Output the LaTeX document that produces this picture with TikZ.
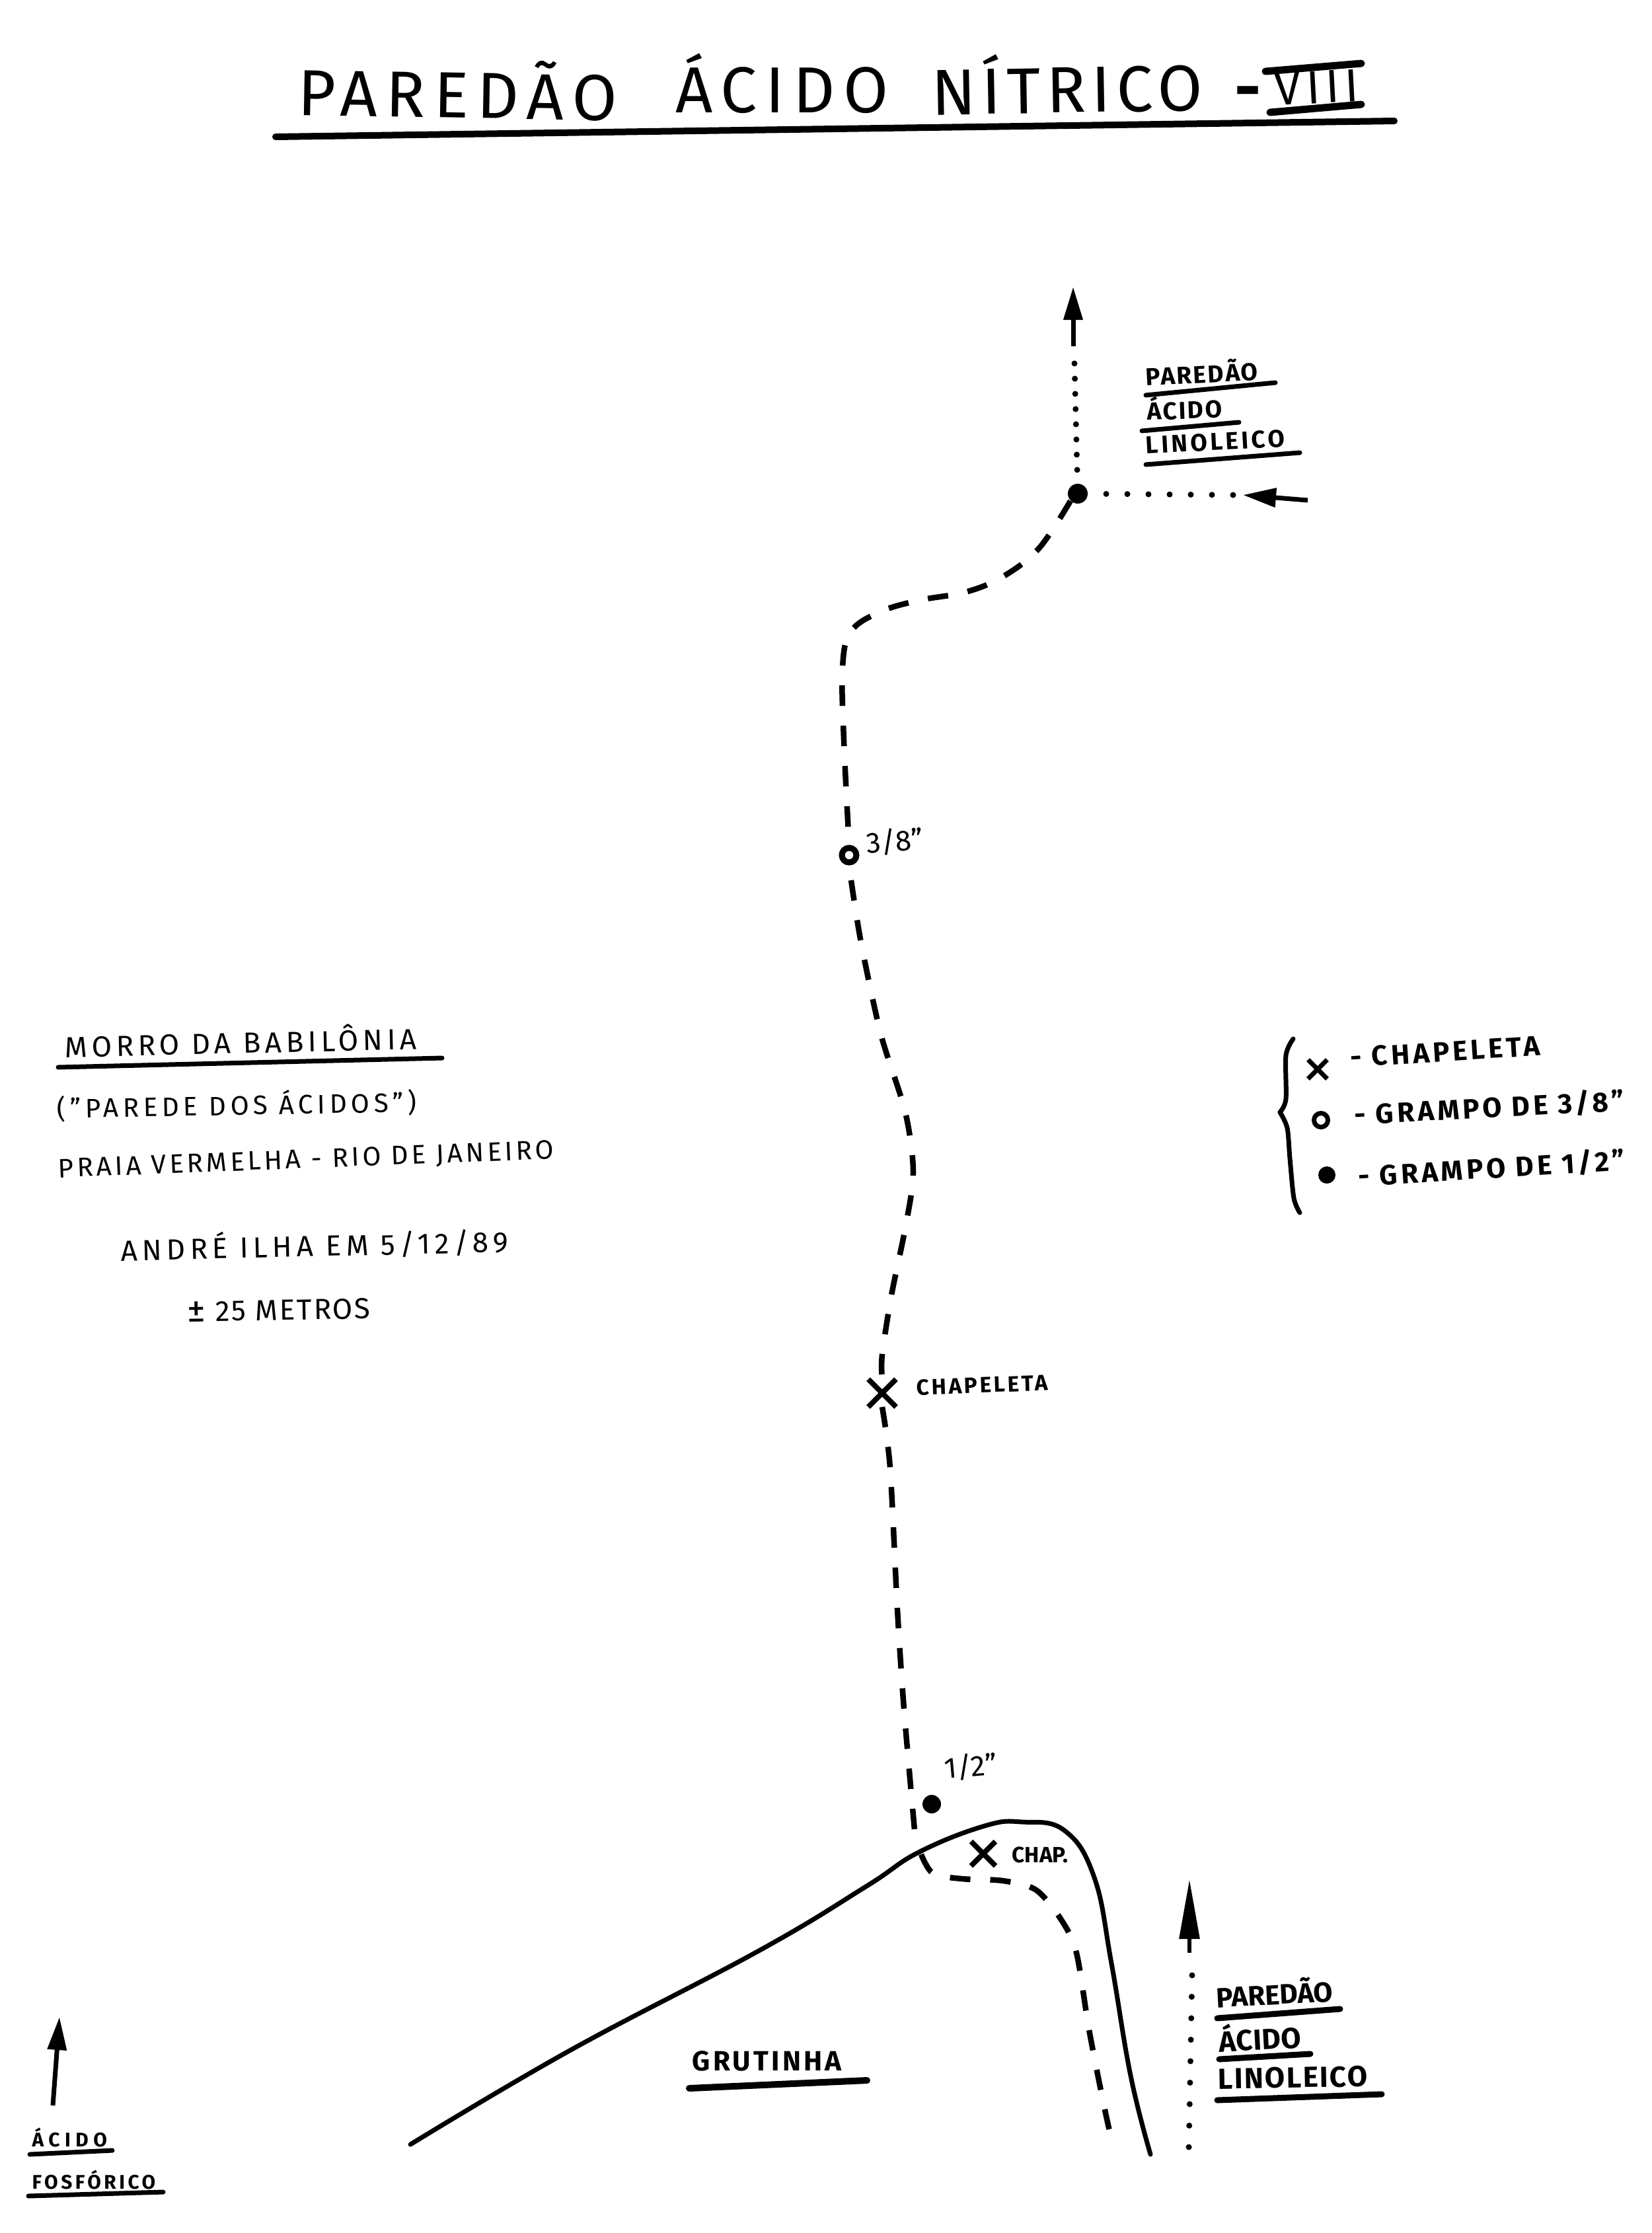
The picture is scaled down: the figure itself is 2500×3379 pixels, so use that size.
\documentclass[tikz,border=0pt]{standalone}
\usepackage{xcolor}
\usepackage{fontspec}
\setmainfont{Fira Sans}
\usetikzlibrary{arrows.meta, shapes.misc}
\newcommand{\handfont}[2]{\fontsize{#1}{#1}\selectfont\addfontfeature{LetterSpace=#2}}

\begin{document}
\begin{tikzpicture}[x=0.1mm, y=-0.1mm,
    hand/.style={anchor=base west, inner sep=0pt, font=\bfseries\handfont{10.5}{7}},
    handlow/.style={hand, font=\bfseries\handfont{8.5}{15}},
    handtall/.style={hand, font=\bfseries\handfont{12.5}{1}},
    handnote/.style={hand, font=\handfont{12.5}{15}},
    handlegend/.style={hand, font=\bfseries\handfont{12}{12}},
    handtitle/.style={hand, font=\handfont{28}{#1}},
    boltdot/.style={circle, fill=black, inner sep=0pt, minimum size=3mm},
    boltring/.style={circle, draw=black, line width=0.9mm, inner sep=0pt, minimum size=2.2mm},
    chapx/.style={cross out, draw=black, line width=0.8mm, inner sep=0pt, minimum size=2.6mm},
    wall/.style={line width=0.7mm, line cap=round, line join=round},
    route/.style={line width=0.85mm, dash pattern=on 3.1mm off 3mm},
    link/.style={line width=0.9mm, line cap=round, dash pattern=on 0pt off #1},
    ruleline/.style={line width=0.7mm, line cap=round},
    arr/.style={-{Triangle[length=5mm, width=2.8mm]}, line width=0.7mm},
    arrlong/.style={-{Triangle[length=9mm, width=3mm]}, line width=0.6mm}
  ]
  \useasboundingbox (0,0) rectangle (2500,3379);
  % title
  \node[handtitle=13, rotate=-1] (title1) at (450,174) {PAREDÃO};
  \node[handtitle=13] (title2) at (1022,170) {ÁCIDO};
  \node[handtitle=9, rotate=1] (title3) at (1410,174) {NÍTRICO};
  \node[handtitle=0, font=\bfseries\handfont{28}{0}] (dash1) at (1868,167) {-};
  \node[hand, font=\handfont{20}{12}, rotate=3] (title4) at (1930,160) {VIII};
  \coordinate (tstart) at (417,207);
  \coordinate (tend) at (2110,183);
  \draw[line width=1mm, line cap=round] (tstart) -- (tend);
  \coordinate (viiia) at (1915,108); \coordinate (viiib) at (2060,96);
  \coordinate (viiic) at (1922,170); \coordinate (viiid) at (2060,158);
  \draw[line width=1.1mm, line cap=round] (viiia) -- (viiib);
  \draw[line width=1.1mm, line cap=round] (viiic) -- (viiid);

  % marks on the route
  \node[boltdot] (bolttop) at (1631,747) {};
  \node[boltring] (ring) at (1285,1294) {};
  \node[chapx, minimum size=3.4mm] (chapa) at (1335,2108) {};
  \node[boltdot, minimum size=2.8mm] (boltlow) at (1410,2730) {};
  \node[chapx, minimum size=2.9mm] (chapb) at (1488,2805) {};

  % route
  \draw[route] plot[smooth, tension=0.6] coordinates {(bolttop.south west) (1572,830) (1517,873) (1461,896) (1393,908) (1334,925) (1288,955) (1275,1010) (1277,1120) (ring.north)};
  \draw[route] plot[smooth, tension=0.5] coordinates {(1288,1332) (1303,1426) (1333,1565) (1370,1683) (1382,1774) (1370,1858) (1349,1960) (1335,2050) (chapa.north)};
  \draw[route] plot[smooth, tension=0.5] coordinates {(chapa.south) (1347,2221) (1358,2435) (1368,2586) (1385,2780)};

  % wall outline
  \coordinate (wallstart) at (621,3245);
  \coordinate (wallend) at (1741,3260);
  \draw[wall] plot[smooth, tension=0.7] coordinates {(wallstart) (862,3103) (1150,2951) (1310,2855) (1390,2803) (1490,2763) (1547,2757) (1611,2770) (1656,2841) (1682,2971) (1711,3141) (wallend)};
  \coordinate (lowstart) at (1394,2806);
  \coordinate (lowend) at (1685,3251);
  \draw[route] plot[smooth, tension=0.5] coordinates {(lowstart) (1412,2835) (1456,2843) (1518,2846) (1568,2860) (1606,2905) (1629,2955) (1648,3071) (1670,3183) (lowend)};

  % arrows and dotted links
  \coordinate (uptip) at (1624,434);
  \coordinate (uptail) at (1624,524);
  \draw[arr] (uptail) -- (uptip);
  \coordinate (updot) at (1626,550);
  \draw[link=2.3mm] (updot) -- (bolttop);
  \coordinate (intip) at (1881,749);
  \coordinate (intail) at (1979,757);
  \draw[arr] (intail) -- (intip);
  \coordinate (indot) at (1866,749);
  \draw[link=3.2mm] (indot) -- (bolttop);
  \coordinate (lowtip) at (1800,2844);
  \coordinate (lowtail) at (1800,2955);
  \draw[arrlong] (lowtail) -- (lowtip);
  \coordinate (lowdota) at (1804,2989);
  \coordinate (lowdotb) at (1799,3254);
  \draw[link=3.25mm] (lowdota) -- (lowdotb);
  \coordinate (lefttip) at (90,3052);
  \coordinate (lefttail) at (80,3186);
  \draw[arr] (lefttail) -- (lefttip);

  % route labels
  \node[hand, font=\handfont{12.5}{1}, rotate=5] (lab38) at (1312,1292) {3/8"};
  \node[hand, font=\handfont{12.5}{0}, rotate=5] (lab12) at (1430,2692) {1/2"};
  \node[hand, font=\bfseries\handfont{9.5}{11}, rotate=2] (labchapa) at (1387,2111) {CHAPELETA};
  \node[hand, font=\bfseries\handfont{9.5}{0}] (labchapb) at (1531,2818) {CHAP.};

  % labels top right
  \node[hand, rotate=3] (pa1) at (1734,584) {PAREDÃO};
  \node[hand, rotate=2] (pa2) at (1736,636) {ÁCIDO};
  \node[hand, rotate=3, font=\bfseries\handfont{10.5}{12}] (pa3) at (1734,687) {LINOLEICO};
  \coordinate (pa1a) at (1734,598); \coordinate (pa1b) at (1930,579);
  \coordinate (pa2a) at (1728,652); \coordinate (pa2b) at (1875,639);
  \coordinate (pa3a) at (1734,703); \coordinate (pa3b) at (1967,685);
  \draw[ruleline] (pa1a) -- (pa1b);
  \draw[ruleline] (pa2a) -- (pa2b);
  \draw[ruleline] (pa3a) -- (pa3b);

  % labels lower right
  \node[handtall, rotate=3, font=\bfseries\handfont{12}{0}] (pb1) at (1841,3038) {PAREDÃO};
  \node[handtall, rotate=3] (pb2) at (1845,3105) {ÁCIDO};
  \node[handtall, rotate=1, font=\bfseries\handfont{12.5}{5}] (pb3) at (1843,3161) {LINOLEICO};
  \coordinate (pb1a) at (1842,3054); \coordinate (pb1b) at (2028,3040);
  \coordinate (pb2a) at (1845,3116); \coordinate (pb2b) at (1983,3108);
  \coordinate (pb3a) at (1842,3178); \coordinate (pb3b) at (2091,3169);
  \draw[line width=0.9mm, line cap=round] (pb1a) -- (pb1b);
  \draw[line width=0.9mm, line cap=round] (pb2a) -- (pb2b);
  \draw[line width=0.9mm, line cap=round] (pb3a) -- (pb3b);

  % grutinha
  \node[hand, font=\bfseries\handfont{12}{10}] (grut) at (1047,3133) {GRUTINHA};
  \coordinate (gruta) at (1043,3160); \coordinate (grutb) at (1312,3148);
  \draw[line width=1mm, line cap=round] (gruta) -- (grutb);

  % labels lower left
  \node[handlow, font=\bfseries\handfont{8.5}{25}] (fos1) at (48,3248) {ÁCIDO};
  \node[handlow] (fos2) at (48,3312) {FOSFÓRICO};
  \coordinate (fos1a) at (45,3260); \coordinate (fos1b) at (170,3254);
  \coordinate (fos2a) at (43,3323); \coordinate (fos2b) at (247,3317);
  \draw[ruleline] (fos1a) -- (fos1b);
  \draw[ruleline] (fos2a) -- (fos2b);

  % notes on the left
  \node[handnote, rotate=1.3] (morro) at (98,1600) {MORRO DA BABILÔNIA};
  \coordinate (morroa) at (88,1615); \coordinate (morrob) at (669,1601);
  \draw[ruleline] (morroa) -- (morrob);
  \node[handnote, font=\handfont{11.5}{16}, rotate=1] (parede) at (86,1692) {("PAREDE DOS ÁCIDOS")};
  \node[handnote, font=\handfont{11.5}{12}, rotate=2.2] (praia) at (88,1782) {PRAIA VERMELHA - RIO DE JANEIRO};
  \node[handnote, font=\handfont{12.5}{16}, rotate=1.3] (andre) at (183,1908) {ANDRÉ ILHA EM 5/12/89};
  \node[handnote, font=\handfont{12.5}{6}, rotate=1] (metros) at (283,2000) {{\fontsize{16}{16}\selectfont±} 25 METROS};

  % legend
  \coordinate (bra) at (1957,1572);
  \coordinate (brb) at (1937,1683);
  \coordinate (brc) at (1967,1835);
  \draw[ruleline, line join=round] plot[smooth, tension=0.5] coordinates {(bra) (1946,1597) (1946,1663) (brb)};
  \draw[ruleline, line join=round] plot[smooth, tension=0.5] coordinates {(brb) (1948,1707) (1952,1753) (1958,1813) (brc)};
  \node[chapx, minimum size=2.2mm, line width=0.7mm] (legx) at (1994,1618) {};
  \node[boltring, minimum size=2.1mm, line width=0.7mm] (lego) at (1999,1695) {};
  \node[boltdot, minimum size=2.6mm] (legd) at (2008,1778) {};
  \node[handlegend, rotate=3.6] (legt1) at (2044,1615) {- CHAPELETA};
  \node[handlegend, rotate=3] (legt2) at (2050,1702) {- GRAMPO DE 3/8"};
  \node[handlegend, rotate=3.5] (legt3) at (2056,1795) {- GRAMPO DE 1/2"};
\end{tikzpicture}
\end{document}
